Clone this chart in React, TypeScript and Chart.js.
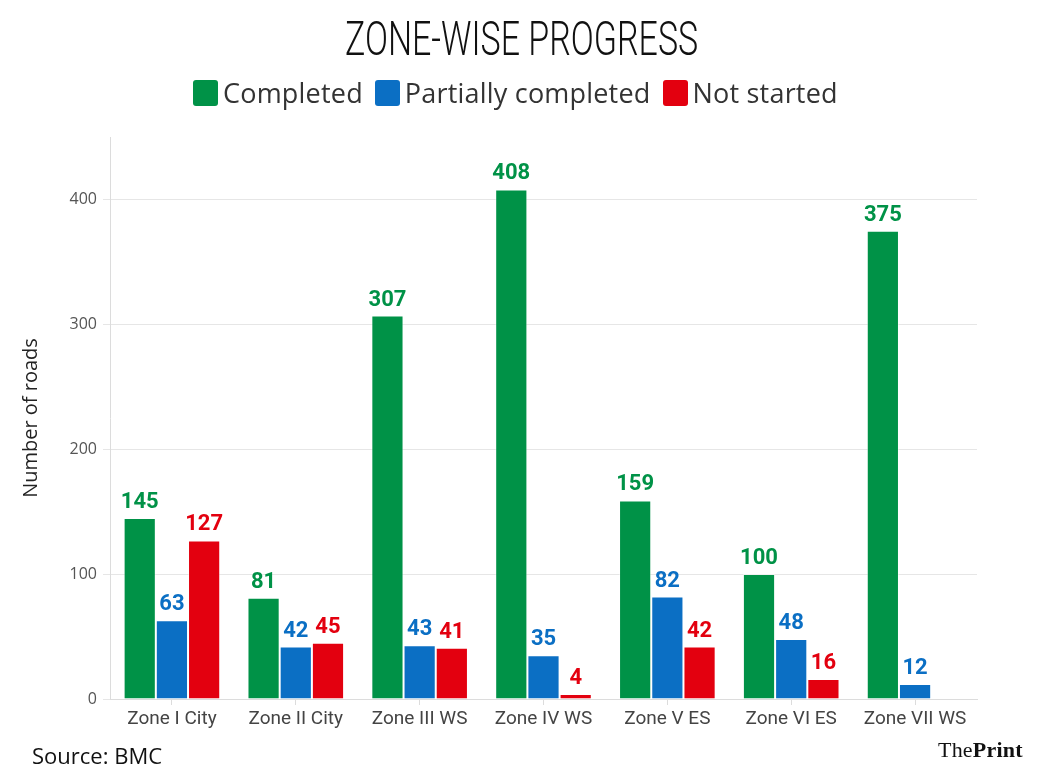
import React, { useEffect, useLayoutEffect, useRef } from "react";
import { Chart, registerables } from "chart.js";

Chart.register(...registerables);

const categories = [
  "Zone I City",
  "Zone II City",
  "Zone III WS",
  "Zone IV WS",
  "Zone V ES",
  "Zone VI ES",
  "Zone VII WS",
];
const completed = [145, 81, 307, 408, 159, 100, 375];
const partiallyCompleted = [63, 42, 43, 35, 82, 48, 12];
const notStarted: (number | null)[] = [127, 45, 41, 4, 42, 16, null];

const seriesNames = ["Completed", "Partially completed", "Not started"];
const seriesColors = ["#009247", "#0b6fc4", "#e3000f"];

const yTicks = [0, 100, 200, 300, 400];

// Writes each bar's value just above it, in the bar's own colour.
const valueLabels = {
  id: "valueLabels",
  afterDatasetsDraw(chart: any) {
    const ctx = chart.ctx;
    ctx.save();
    ctx.font = "bold 22px Roboto";
    ctx.textAlign = "center";
    ctx.textBaseline = "alphabetic";
    chart.data.datasets.forEach((ds: any, i: number) => {
      const meta = chart.getDatasetMeta(i);
      meta.data.forEach((bar: any, j: number) => {
        const v = ds.data[j];
        if (v === null || v === undefined) return;
        ctx.fillStyle = ds.backgroundColor;
        ctx.fillText(String(v), bar.x, bar.y - 10);
      });
    });
    ctx.restore();
  },
};

function ZoneChart() {
  const canvasRef = useRef<HTMLCanvasElement | null>(null);

  useEffect(() => {
    if (!canvasRef.current) return;
    const seriesData = [completed, partiallyCompleted, notStarted];
    const chart = new Chart(canvasRef.current, {
      type: "bar",
      data: {
        labels: categories,
        datasets: seriesNames.map((name, i) => ({
          label: name,
          data: seriesData[i],
          backgroundColor: seriesColors[i],
          borderColor: "rgba(255,255,255,0.45)",
          borderWidth: 1,
          categoryPercentage: 0.78,
          barPercentage: 1,
        })),
      },
      options: {
        responsive: false,
        animation: false,
        devicePixelRatio: 1,
        layout: { padding: { left: 0, top: 137, right: 67, bottom: 37 } },
        plugins: {
          legend: { display: false },
          title: { display: false },
          tooltip: { enabled: false },
        },
        scales: {
          x: {
            grid: {
              display: true,
              drawOnChartArea: false,
              drawTicks: true,
              tickLength: 6,
              offset: false,
              color: "#dcdcdc",
            },
            border: { display: true, color: "#dcdcdc", width: 1 },
            ticks: {
              color: "#444",
              font: { family: "Roboto", size: 19 },
              padding: 3,
              maxRotation: 0,
            },
            afterFit(scale: any) {
              scale.height = 40;
            },
          },
          y: {
            min: 0,
            max: 450,
            bounds: "data",
            afterBuildTicks(scale: any) {
              scale.ticks = yTicks.map((v) => ({ value: v }));
            },
            grid: {
              color: "#e6e6e6",
              tickLength: 7,
              lineWidth: 1,
            },
            border: { display: true, color: "#dcdcdc", width: 1 },
            ticks: {
              color: "#555",
              font: { family: "Open Sans", size: 16 },
              padding: 6,
            },
            title: {
              display: true,
              text: "Number of roads",
              color: "#222",
              font: { family: "Open Sans", size: 20 },
              padding: { top: 19, bottom: 0 },
            },
            afterFit(scale: any) {
              scale.width = 110;
            },
          },
        },
      },
      plugins: [valueLabels],
    } as any);
    return () => chart.destroy();
  }, []);

  return (
    <canvas
      ref={canvasRef}
      width={1044}
      height={776}
      style={{ position: "absolute", left: 0, top: 0, width: 1044, height: 776 }}
    />
  );
}

function Title() {
  const spanRef = useRef<HTMLSpanElement | null>(null);
  useLayoutEffect(() => {
    const el = spanRef.current;
    if (!el) return;
    const w = el.offsetWidth;
    if (w > 0) el.style.transform = `scaleX(${353 / w})`;
  }, []);
  return (
    <div
      style={{
        position: "absolute",
        left: 0,
        top: 15,
        width: 1044,
        textAlign: "center",
        lineHeight: "48px",
        height: 48,
      }}
    >
      <span
        ref={spanRef}
        style={{
          display: "inline-block",
          fontFamily: "Roboto",
          fontWeight: 300,
          fontSize: 48,
          color: "#111",
          whiteSpace: "nowrap",
          transformOrigin: "center",
        }}
      >
        ZONE-WISE PROGRESS
      </span>
    </div>
  );
}

function Legend() {
  return (
    <div
      style={{
        position: "absolute",
        left: 193,
        top: 78,
        height: 30,
        display: "flex",
        alignItems: "center",
        fontFamily: "'Open Sans'",
        fontSize: 27,
        letterSpacing: 0.2,
        color: "#333",
        whiteSpace: "nowrap",
      }}
    >
      {seriesNames.map((name, i) => (
        <div key={name} style={{ display: "flex", alignItems: "center", marginRight: 12 }}>
          <span
            style={{
              display: "inline-block",
              width: 25,
              height: 26,
              borderRadius: 3,
              background: seriesColors[i],
              marginRight: 5,
            }}
          />
          <span style={{ lineHeight: "30px" }}>{name}</span>
        </div>
      ))}
    </div>
  );
}

function Footer() {
  return (
    <>
      <div
        style={{
          position: "absolute",
          left: 32,
          top: 740,
          fontFamily: "'Open Sans'",
          fontSize: 22,
          lineHeight: "30px",
          color: "#111",
          whiteSpace: "nowrap",
        }}
      >
        Source: BMC
      </div>
      <div
        style={{
          position: "absolute",
          left: 938,
          top: 736,
          fontFamily: "'Liberation Serif'",
          fontSize: 22,
          lineHeight: "28px",
          color: "#111",
          letterSpacing: 0.2,
          whiteSpace: "nowrap",
        }}
      >
        The<span style={{ fontWeight: 700 }}>Print</span>
      </div>
    </>
  );
}

export default function App() {
  return (
    <div
      style={{
        position: "fixed",
        left: 0,
        top: 0,
        width: 1044,
        height: 776,
        background: "#fff",
        overflow: "hidden",
      }}
    >
      <ZoneChart />
      <Title />
      <Legend />
      <Footer />
    </div>
  );
}
